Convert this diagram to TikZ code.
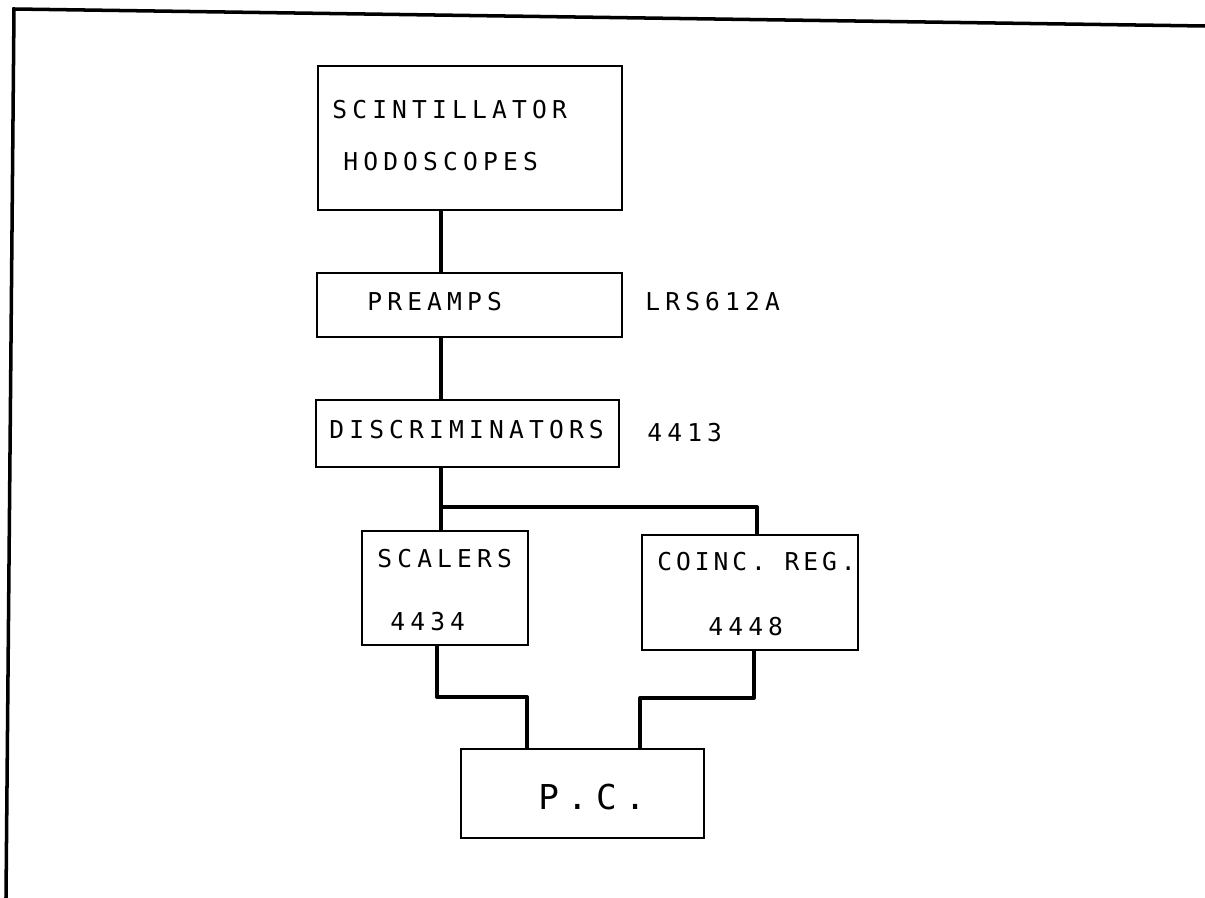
\documentclass[tikz,border=0pt]{standalone}
\usepackage{fontspec}
\usetikzlibrary{calc}
\newfontfamily\plotfont[LetterSpace=21]{DejaVu Sans Mono}
\newfontfamily\plotfontnarrow[LetterSpace=16]{DejaVu Sans Mono}
\newfontfamily\plotfontbig[LetterSpace=24]{DejaVu Sans Mono}

\begin{document}
\begin{tikzpicture}[x=0.02cm,y=-0.02cm,
   blk/.style={draw,line width=1.5pt,inner sep=0pt},
   lbl/.style={anchor=west,inner sep=0pt,font=\plotfont\fontsize{14}{16}\selectfont},
   wire/.style={line width=2.3pt,line join=round}]
\useasboundingbox (0,0) rectangle (1205,898);
% page frame
\draw[line width=2pt] (6,898) -- (14,9) -- (1205,26);
% blocks
\node[blk,minimum width=6.08cm,minimum height=2.88cm] (scint) at (470,138) {};
\node[blk,minimum width=6.10cm,minimum height=1.28cm] (pre)   at (469.5,305) {};
\node[blk,minimum width=6.06cm,minimum height=1.34cm] (disc)  at (467.5,433.5) {};
\node[blk,minimum width=3.32cm,minimum height=2.28cm] (scal)  at (445,588) {};
\node[blk,minimum width=4.32cm,minimum height=2.30cm] (coinc) at (750,592.5) {};
\node[blk,minimum width=4.86cm,minimum height=1.78cm] (pc)    at (582.5,793.5) {};
% texts
\node[lbl] (tscint) at (332,110) {SCINTILLATOR};
\node[lbl] (thodo)  at (343,162) {HODOSCOPES};
\node[lbl] (tpre)   at (367,302) {PREAMPS};
\node[lbl] (tlrs)   at (645,302) {LRS612A};
\node[lbl] (tdisc)  at (329,430) {DISCRIMINATORS};
\node[lbl] (t4413)  at (647,433) {4413};
\node[lbl] (tscal)  at (377,559) {SCALERS};
\node[lbl] (t4434)  at (390,622) {4434};
\node[lbl,font=\plotfontnarrow\fontsize{14}{16}\selectfont] (tcoinc) at (657,562) {COINC. REG.};
\node[lbl] (t4448)  at (708,627) {4448};
\node[lbl,font=\plotfontbig\fontsize{19.5}{22}\selectfont] (tpc) at (538,797) {P.C.};
% wiring
\coordinate (trunk) at (441,0);
\coordinate (split) at (441,507);
\coordinate (cdrop) at (757,0);
\coordinate (sdrop) at (437,0);
\coordinate (sjoin) at (527,697);
\coordinate (cout)  at (754,0);
\coordinate (cjoin) at (640,698);
\draw[wire] (scint.south -| trunk) -- (pre.north -| trunk);
\draw[wire] (pre.south -| trunk) -- (disc.north -| trunk);
\draw[wire] (disc.south -| trunk) -- (scal.north -| trunk);
\draw[wire] (split) -| (coinc.north -| cdrop);
\draw[wire] (scal.south -| sdrop) |- (sjoin) -- (pc.north -| sjoin);
\draw[wire] (coinc.south -| cout) |- (cjoin) -- (pc.north -| cjoin);
\end{tikzpicture}
\end{document}
